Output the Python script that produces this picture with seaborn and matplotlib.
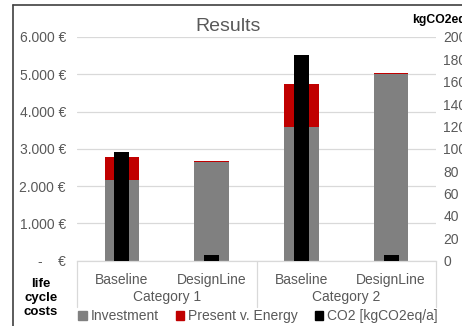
import pandas as pd
import matplotlib
matplotlib.use("Agg")
import matplotlib.pyplot as plt
import matplotlib.transforms as mtransforms
from matplotlib.lines import Line2D
from matplotlib.patches import Patch
import seaborn as sns

# Data
categories = ["Category 1", "Category 1", "Category 2", "Category 2"]
variants = ["Baseline", "DesignLine", "Baseline", "DesignLine"]
investment = [2160, 2650, 3575, 5000]
energy = [625, 30, 1150, 25]
co2 = [97, 4.5, 184, 5]

cost_ticks = [0, 1000, 2000, 3000, 4000, 5000, 6000]
cost_labels = ["-    €", "1.000 €", "2.000 €", "3.000 €", "4.000 €", "5.000 €", "6.000 €"]
co2_ticks = [0, 20, 40, 60, 80, 100, 120, 140, 160, 180, 200]

df = pd.DataFrame({
    "key": [f"{c}|{v}" for c, v in zip(categories, variants)],
    "variant": variants,
    "category": categories,
    "investment": investment,
    "energy": energy,
    "co2": co2,
})
df["total"] = df["investment"] + df["energy"]
order = list(df["key"])

sns.set_theme(style="white")
plt.rcParams["font.family"] = ["Liberation Sans", "DejaVu Sans"]

GREY = "#808080"
RED = "#c00000"
TXT = "#595959"
GRID = "#d9d9d9"

fig = plt.figure(figsize=(4.62, 3.26), dpi=100)
W, H = 462, 326
left, right, top, bottom = 77, 436, 37, 260.5
ax = fig.add_axes([left / W, 1 - bottom / H, (right - left) / W, (bottom - top) / H])

# stacked bars: total in red underneath, investment in grey on top
sns.barplot(data=df, x="key", y="total", order=order, color=RED, saturation=1,
            width=0.383, linewidth=0, ax=ax)
sns.barplot(data=df, x="key", y="investment", order=order, color=GREY, saturation=1,
            width=0.383, linewidth=0, ax=ax)

ax.set_ylim(0, 6000)
ax.set_xlim(-0.5, 3.5)
ax.set_yticks(cost_ticks)
ax.set_yticklabels(cost_labels)
ax.yaxis.grid(True, color=GRID, linewidth=0.9)
ax.set_axisbelow(True)
ax.set_xlabel("")
ax.set_ylabel("")
for s in ["top", "left", "right"]:
    ax.spines[s].set_visible(False)
ax.spines["bottom"].set_color(GRID)
ax.spines["bottom"].set_linewidth(0.9)
ax.tick_params(axis="y", length=0, pad=8, labelsize=10, labelcolor=TXT)
ax.set_xticks(range(len(order)))
ax.set_xticklabels(variants)
ax.tick_params(axis="x", length=0, pad=9, labelsize=10, labelcolor=TXT)

# CO2 on secondary axis
ax2 = ax.twinx()
sns.barplot(data=df, x="key", y="co2", order=order, color="black", saturation=1,
            width=0.165, linewidth=0, ax=ax2)
ax2.set_ylim(0, 200)
ax2.set_xlim(-0.5, 3.5)
ax2.set_yticks(co2_ticks)
ax2.set_ylabel("")
ax2.set_xlabel("")
for s in ["top", "left", "right", "bottom"]:
    ax2.spines[s].set_visible(False)
ax2.tick_params(axis="y", length=0, pad=5.2, labelsize=10, labelcolor=TXT)
ax2.grid(False)

# multi-level category axis
trans = mtransforms.blended_transform_factory(ax.transData, ax.transAxes)
sep_bottom = (bottom - 307) / (bottom - top)
for xs in [-0.5, 1.5, 3.5]:
    ax.plot([xs, xs], [0, sep_bottom], transform=trans, color=GRID, lw=0.9,
            clip_on=False)
cat_y = (bottom - 297.5) / (bottom - top)
for i, cat in enumerate(["Category 1", "Category 2"]):
    ax.text(2 * i + 0.5, cat_y, cat, transform=trans, ha="center", va="center",
            fontsize=10, color=TXT)

# titles and side labels
fig.text(228 / W, 1 - 31 / H, "Results", ha="center", va="baseline",
         fontsize=14, color=TXT)
fig.text(412 / W, 1 - 20 / H, "kgCO2eq/a", ha="left", va="center",
         fontsize=8.8, fontweight="bold", color="black")
fig.text(41 / W, 1 - 298 / H, "life\ncycle\ncosts", ha="center", va="center",
         fontsize=9.5, fontweight="bold", color="black", linespacing=1.25)

# legend
handles = [Patch(color=GREY), Patch(color=RED), Patch(color="black")]
leg = fig.legend(handles, ["Investment", "Present v. Energy", "CO2 [kgCO2eq/a]"],
                 loc="center", bbox_to_anchor=(258 / W, 1 - 316 / H), ncol=3,
                 frameon=False, fontsize=10, handlelength=0.6, handleheight=0.6,
                 handletextpad=0.3, columnspacing=1.2, borderpad=0)
for t in leg.get_texts():
    t.set_color(TXT)

# outer chart frame (left and top edges)
fig.add_artist(Line2D([13 / W, 13 / W], [0, 1 - 5 / H], transform=fig.transFigure,
                      color="#404040", lw=1.2))
fig.add_artist(Line2D([13 / W, 1], [1 - 5 / H, 1 - 5 / H], transform=fig.transFigure,
                      color="#404040", lw=1.2))

fig.savefig("out.png", dpi=100)
